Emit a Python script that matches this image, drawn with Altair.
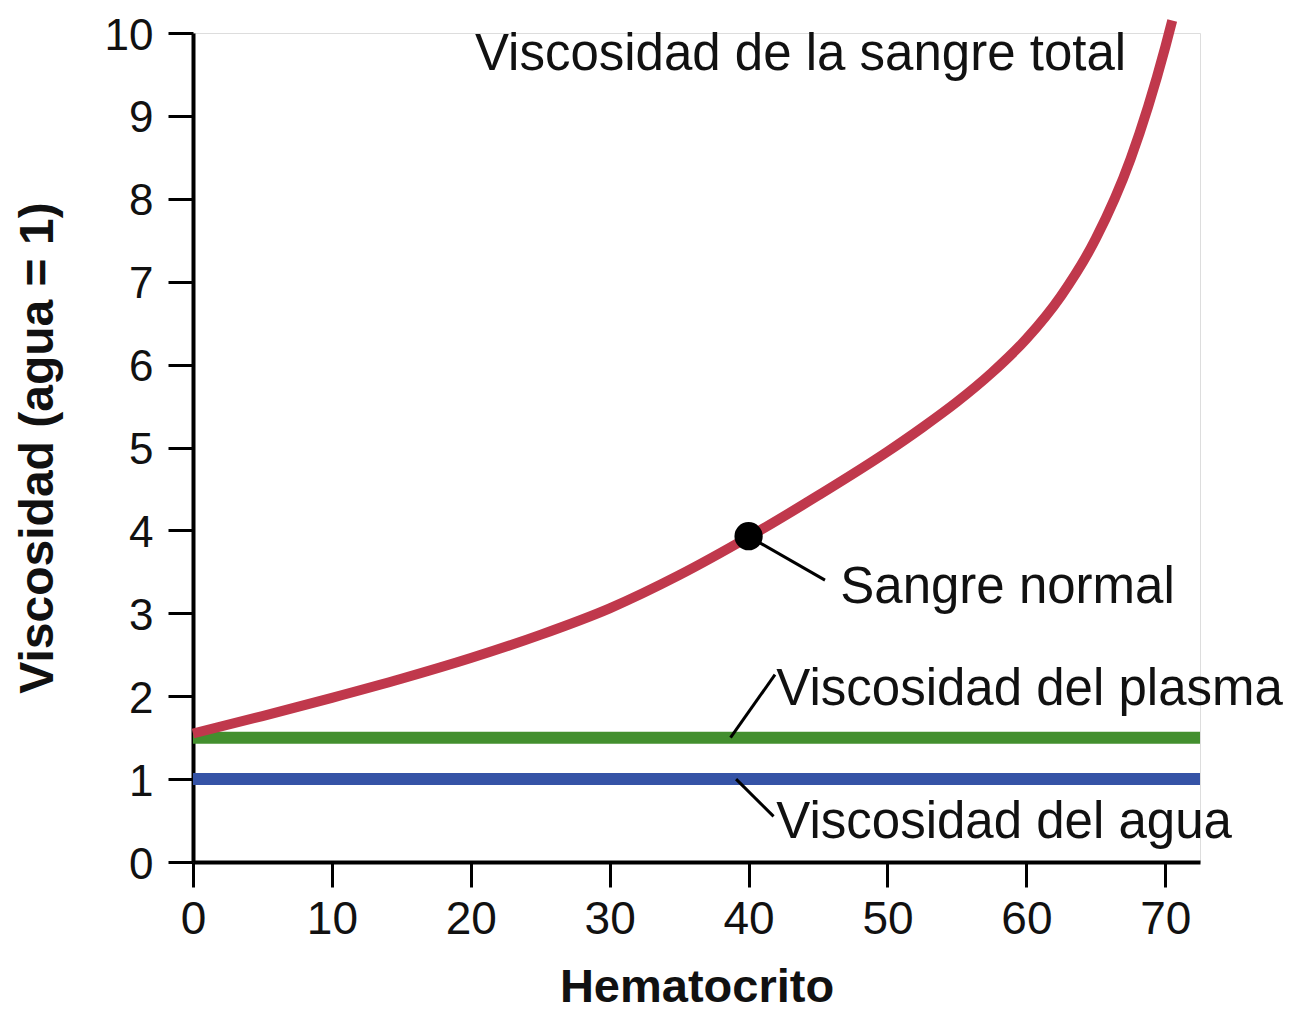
import altair as alt
import pandas as pd

# Data
hematocrit = [0, 5, 10, 15, 20, 25, 30, 35, 40, 45, 50, 52.5, 55, 57.5, 60, 62.5, 65, 67.5, 70, 70.5]
blood_visc = [1.55, 1.76, 1.98, 2.21, 2.46, 2.74, 3.06, 3.46, 3.92, 4.42, 4.95, 5.24, 5.55, 5.9, 6.31, 6.83, 7.52, 8.48, 9.83, 10.15]

flat_x = [0, 72.5]
plasma_visc = [1.5, 1.5]
water_visc = [1.0, 1.0]

normal_point_x = [40]
normal_point_y = [3.93]

label_texts = ["Viscosidad de la sangre total", "Sangre normal", "Viscosidad del plasma", "Viscosidad del agua"]
label_x = [20.3, 46.6, 42.0, 42.0]
label_y = [9.73, 3.3, 2.07, 0.47]

leader_x = [40.5, 45.5, 38.7, 41.9, 39.1, 41.8]
leader_y = [3.88, 3.4, 1.5, 2.26, 1.0, 0.55]
leader_id = ["a", "a", "b", "b", "c", "c"]

FONT = "Liberation Sans"

xs = alt.Scale(domain=[0, 72.5], nice=False, zero=False)
ys = alt.Scale(domain=[0, 10], nice=False)

blood_df = pd.DataFrame({"x": hematocrit, "y": blood_visc})
plasma_df = pd.DataFrame({"x": flat_x, "y": plasma_visc})
water_df = pd.DataFrame({"x": flat_x, "y": water_visc})
pt_df = pd.DataFrame({"x": normal_point_x, "y": normal_point_y})
lab_df = pd.DataFrame({"t": label_texts, "x": label_x, "y": label_y})
lead_df = pd.DataFrame({"x": leader_x, "y": leader_y, "id": leader_id})

x_axis = alt.Axis(
    values=[0, 10, 20, 30, 40, 50, 60, 70], format="d", labelFlush=False, grid=False,
    domainColor="black", domainWidth=4, tickColor="black", tickWidth=3, tickSize=25,
    labelFont=FONT, labelFontSize=46, labelColor="#111", labelPadding=10,
    title="Hematocrito", titleFont=FONT, titleFontSize=47, titleFontWeight="bold",
    titleColor="#111", titleBaseline="alphabetic", titleY=139, titleX=503.5,
)
y_axis = alt.Axis(
    values=list(range(0, 11)), format="d", labelFlush=False, grid=False,
    domainColor="black", domainWidth=4, tickColor="black", tickWidth=3, tickSize=25,
    labelFont=FONT, labelFontSize=44, labelColor="#111", labelPadding=15, labelOffset=3,
    title="Viscosidad (agua = 1)", titleFont=FONT, titleFontSize=48, titleFontWeight="bold",
    titleColor="#111", titleBaseline="alphabetic", titleAngle=270, titleX=-141, titleY=414.5,
)

base_x = alt.X("x:Q", scale=xs, axis=x_axis)
base_y = alt.Y("y:Q", scale=ys, axis=y_axis)

water = alt.Chart(water_df).mark_line(color="#3553a6", strokeWidth=12, strokeCap="butt").encode(x=base_x, y=base_y)
plasma = alt.Chart(plasma_df).mark_line(color="#438f2e", strokeWidth=12, strokeCap="butt").encode(x="x:Q", y="y:Q")
blood = alt.Chart(blood_df).mark_line(color="#c0384c", strokeWidth=10, strokeCap="butt", interpolate="monotone").encode(x="x:Q", y="y:Q")
leaders = alt.Chart(lead_df).mark_line(color="black", strokeWidth=3).encode(x="x:Q", y="y:Q", detail="id:N")
point = alt.Chart(pt_df).mark_point(filled=True, color="black", size=800, opacity=1).encode(x="x:Q", y="y:Q")
labels = alt.Chart(lab_df).mark_text(align="left", baseline="middle", font=FONT, fontSize=51, color="#111").encode(
    x="x:Q", y="y:Q", text="t:N")

chart = alt.layer(water, plasma, blood, leaders, point, labels).properties(
    width=1007, height=829,
    autosize=alt.AutoSizeParams(type="none"),
    padding={"left": 185, "top": 25, "right": 104, "bottom": 149},
).configure_view(stroke=None).configure(background="white")

chart.save("out.html", embed_options={"renderer": "svg", "actions": False})
